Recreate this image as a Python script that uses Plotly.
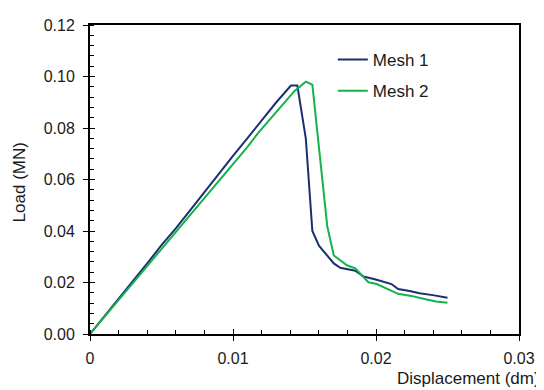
import plotly.graph_objects as go

# ---- data ----
mesh1_x = [0, 0.001, 0.002, 0.003, 0.004, 0.005, 0.006, 0.007, 0.008, 0.009, 0.010,
           0.011, 0.012, 0.013, 0.01405, 0.0145, 0.01509, 0.01555, 0.01601, 0.01659,
           0.01705, 0.0175, 0.01855, 0.01913, 0.02005, 0.02108, 0.02155, 0.02235,
           0.02304, 0.02397, 0.0250]
mesh1_y = [0, 0.0068, 0.0137, 0.0206, 0.0274, 0.0345, 0.0410, 0.0480, 0.0552, 0.0622,
           0.0692, 0.0760, 0.0830, 0.0898, 0.0965, 0.0965, 0.0760, 0.0400, 0.0343,
           0.0305, 0.0274, 0.0257, 0.0246, 0.0223, 0.0211, 0.0194, 0.0175, 0.0167,
           0.0158, 0.0151, 0.0141]

mesh2_x = [0, 0.001, 0.002, 0.003, 0.004, 0.005, 0.006, 0.007, 0.008, 0.009, 0.010,
           0.011, 0.01175, 0.013, 0.01429, 0.01509, 0.01555, 0.01659, 0.01705, 0.01797,
           0.01855, 0.01947, 0.02005, 0.02155, 0.02247, 0.02316, 0.0242, 0.0250]
mesh2_y = [0, 0.0066, 0.0132, 0.0198, 0.0264, 0.0330, 0.0395, 0.0460, 0.0527, 0.0593,
           0.0660, 0.0726, 0.0780, 0.0862, 0.0943, 0.0980, 0.0968, 0.0419, 0.0305,
           0.0267, 0.0255, 0.0201, 0.0194, 0.0156, 0.0148, 0.0139, 0.0126, 0.0121]

x_tickvals = [0, 0.01, 0.02, 0.03]
x_ticktext = ["0", "0.01", "0.02", "0.03"]
y_tickvals = [0, 0.02, 0.04, 0.06, 0.08, 0.10, 0.12]
y_ticktext = ["0.00", "0.02", "0.04", "0.06", "0.08", "0.10", "0.12"]

series_names = ["Mesh 1", "Mesh 2"]
colors = ["#1b2f6e", "#13b24e"]

FONT = "Liberation Sans, Arial, sans-serif"
TXT = "#1a1a1a"

fig = go.Figure()
fig.add_trace(go.Scatter(x=mesh1_x, y=mesh1_y, mode="lines", name=series_names[0],
                         line=dict(color=colors[0], width=2), legendgroup="a"))
fig.add_trace(go.Scatter(x=mesh2_x, y=mesh2_y, mode="lines", name=series_names[1],
                         line=dict(color=colors[1], width=2), legendgroup="b"))
# invisible trace so the overlay axes (inside half of major ticks) render
fig.add_trace(go.Scatter(x=[None], y=[None], xaxis="x2", yaxis="y2", showlegend=False,
                         hoverinfo="skip"))

common = dict(showline=True, linecolor="black", linewidth=2, mirror=True,
              showgrid=False, zeroline=False, ticks="outside", ticklen=5,
              tickwidth=1, tickcolor="black",
              tickfont=dict(family=FONT, size=16, color=TXT))

fig.update_layout(
    width=536, height=382,
    margin=dict(l=82, r=20, t=9, b=56),
    paper_bgcolor="white", plot_bgcolor="white",
    showlegend=True,
    legend=dict(x=0.566, y=0.945, xanchor="left", yanchor="top",
                bgcolor="rgba(0,0,0,0)", tracegroupgap=6,
                font=dict(family=FONT, size=17, color=TXT)),
    xaxis=dict(range=[0, 0.03], tickmode="array", tickvals=x_tickvals,
               ticktext=x_ticktext, ticklabelstandoff=4,
               minor=dict(dtick=0.002, tick0=0, ticks="inside", ticklen=4,
                          tickcolor="black", tickwidth=1),
               **common),
    yaxis=dict(range=[0, 0.12], tickmode="array", tickvals=y_tickvals,
               ticktext=y_ticktext, ticklabelstandoff=5,
               minor=dict(dtick=0.004, tick0=0, ticks="inside", ticklen=4,
                          tickcolor="black", tickwidth=1),
               **common),
    xaxis2=dict(overlaying="x", anchor="y", range=[0, 0.03], tickmode="array",
                tickvals=x_tickvals, showticklabels=False, ticks="inside",
                ticklen=5, tickcolor="black", tickwidth=1, showline=False,
                showgrid=False, zeroline=False),
    yaxis2=dict(overlaying="y", anchor="x", range=[0, 0.12], tickmode="array",
                tickvals=y_tickvals, showticklabels=False, ticks="inside",
                ticklen=5, tickcolor="black", tickwidth=1, showline=False,
                showgrid=False, zeroline=False),
    annotations=[
        dict(text="Displacement (dm)", xref="paper", yref="paper",
             x=0.712, y=-0.145, xanchor="left", yanchor="middle", showarrow=False,
             font=dict(family=FONT, size=17, color=TXT)),
        dict(text="Load (MN)", xref="paper", yref="paper", textangle=-90,
             x=-0.1636, y=0.49, xanchor="center", yanchor="middle", showarrow=False,
             font=dict(family=FONT, size=17, color=TXT)),
    ],
)

fig.write_html("out.html")
